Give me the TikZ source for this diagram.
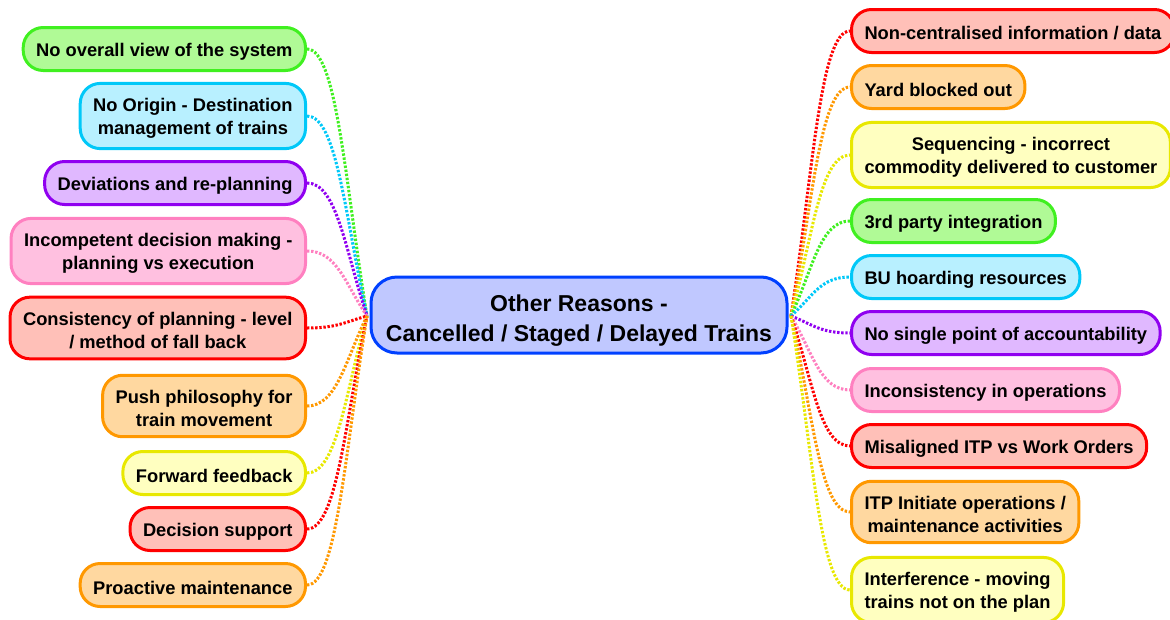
\documentclass[tikz,border=0pt]{standalone}
\usepackage{fontspec}
\setmainfont{Liberation Sans}

\definecolor{grnD}{RGB}{64,240,32}   \definecolor{grnF}{RGB}{176,250,150}
\definecolor{cynD}{RGB}{0,200,248}   \definecolor{cynF}{RGB}{184,240,255}
\definecolor{purD}{RGB}{144,0,240}   \definecolor{purF}{RGB}{224,184,255}
\definecolor{pnkD}{RGB}{255,128,192} \definecolor{pnkF}{RGB}{255,192,224}
\definecolor{redD}{RGB}{255,0,0}     \definecolor{redF}{RGB}{255,192,184}
\definecolor{orgD}{RGB}{255,152,0}   \definecolor{orgF}{RGB}{255,216,160}
\definecolor{yelD}{RGB}{232,232,0}   \definecolor{yelF}{RGB}{255,255,192}
\definecolor{bluD}{RGB}{0,64,255}    \definecolor{bluF}{RGB}{192,200,255}

% strut that pushes the first line down a little
\newcommand{\liftup}[1]{\rule{0pt}{#1}}

\begin{document}
\begin{tikzpicture}
  [x=1pt,y=-1pt,
   leaf/.style={rounded corners=20pt,line width=3pt,align=center,
     inner xsep=13pt,inner ysep=10pt,minimum height=43pt,
     font=\fontsize{18.3}{23}\selectfont\bfseries},
   grn/.style={leaf,draw=grnD,fill=grnF},
   cyn/.style={leaf,draw=cynD,fill=cynF},
   pur/.style={leaf,draw=purD,fill=purF},
   pnk/.style={leaf,draw=pnkD,fill=pnkF},
   rd/.style={leaf,draw=redD,fill=redF},
   org/.style={leaf,draw=orgD,fill=orgF},
   yel/.style={leaf,draw=yelD,fill=yelF},
   hub/.style={rounded corners=26pt,line width=3pt,align=center,
     draw=bluD,fill=bluF,minimum width=416pt,minimum height=76pt,
     font=\fontsize{23}{30}\selectfont\bfseries},
   link/.style={draw=#1,line width=3pt,dash pattern=on 2.4pt off 1.7pt}]
  \useasboundingbox (0,0) rectangle (1170,619);

  \node[hub] (c) at (579,315) {\liftup{28.5pt}Other Reasons -\\Cancelled / Staged / Delayed Trains};
  \coordinate (hl) at (367,316);
  \coordinate (hr) at (791,316);

  % left side
  \node[grn,anchor=east] (l1) at (307,49)  {\liftup{18.3pt}No overall view of the system};
  \node[cyn,anchor=east] (l2) at (307,116) {\liftup{18.3pt}No Origin - Destination\\management of trains};
  \node[pur,anchor=east] (l3) at (307,183) {\liftup{18.3pt}Deviations and re-planning};
  \node[pnk,anchor=east] (l4) at (307,251) {\liftup{18.3pt}Incompetent decision making -\\planning vs execution};
  \node[rd,anchor=east]  (l5) at (307,328) {\liftup{18.3pt}Consistency of planning - level\\/ method of fall back};
  \node[org,anchor=east] (l6) at (307,406) {\liftup{18.3pt}Push philosophy for\\train movement};
  \node[yel,anchor=east] (l7) at (307,473) {\liftup{18.3pt}Forward feedback};
  \node[rd,anchor=east]  (l8) at (307,529) {\liftup{18.3pt}Decision support};
  \node[org,anchor=east] (l9) at (307,585) {\liftup{18.3pt}Proactive maintenance};

  % right side
  \node[rd,anchor=west]  (r1)  at (850,31)  {\liftup{18.3pt}Non-centralised information / data};
  \node[org,anchor=west] (r2)  at (850,87)  {\liftup{18.3pt}Yard blocked out};
  \node[yel,anchor=west] (r3)  at (850,155) {\liftup{18.3pt}Sequencing - incorrect\\commodity delivered to customer};
  \node[grn,anchor=west] (r4)  at (850,221) {\liftup{18.3pt}3rd party integration};
  \node[cyn,anchor=west] (r5)  at (850,277) {\liftup{18.3pt}BU hoarding resources};
  \node[pur,anchor=west] (r6)  at (850,333) {\liftup{18.3pt}No single point of accountability};
  \node[pnk,anchor=west] (r7)  at (850,390) {\liftup{18.3pt}Inconsistency in operations};
  \node[rd,anchor=west]  (r8)  at (850,446) {\liftup{18.3pt}Misaligned ITP vs Work Orders};
  \node[org,anchor=west] (r9)  at (850,512) {\liftup{18.3pt}ITP Initiate operations /\\maintenance activities};
  \node[yel,anchor=west] (r10) at (850,590) {\liftup{18.3pt}Interference - moving\\trains not on the plan};

  \foreach \n/\c/\yy in {l1/grnD/49,l2/cynD/116,l3/purD/183,l4/pnkD/251,l5/redD/328,
                         l6/orgD/406,l7/yelD/473,l8/redD/529,l9/orgD/585}
    \draw[link=\c] (\n.east) .. controls +(30,0) and +(-22,{(\yy-316)*0.5}) .. (hl);
  \foreach \n/\c/\yy in {r1/redD/31,r2/orgD/87,r3/yelD/155,r4/grnD/221,r5/cynD/277,
                         r6/purD/333,r7/pnkD/390,r8/redD/446,r9/orgD/512,r10/yelD/590}
    \draw[link=\c] (hr) .. controls +(22,{(\yy-316)*0.5}) and +(-30,0) .. (\n.west);
\end{tikzpicture}
\end{document}
